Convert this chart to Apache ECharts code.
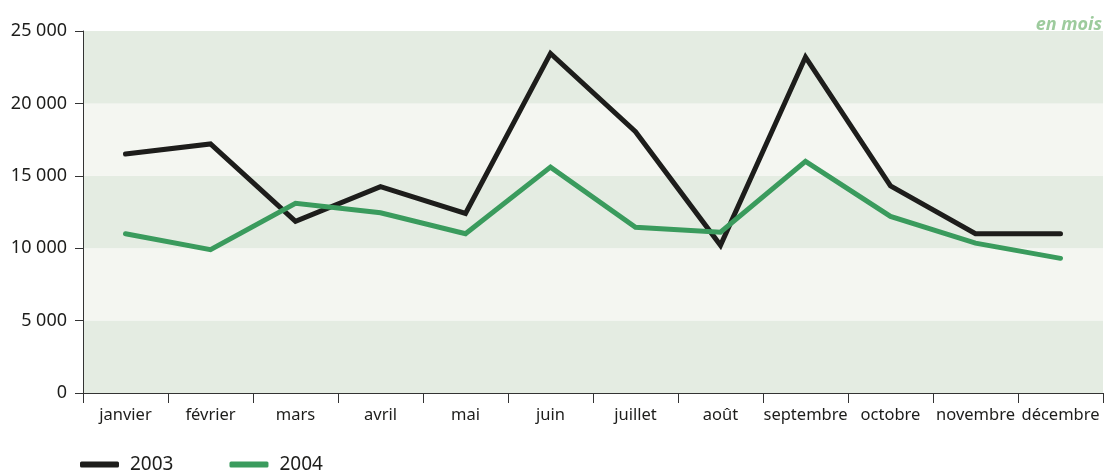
<!DOCTYPE html>
<html>
<head>
<meta charset="utf-8">
<script src="https://cdn.jsdelivr.net/npm/echarts@6/dist/echarts.min.js"></script>
<style>
html,body{margin:0;padding:0;background:#fff;}
#chart{width:1107px;height:470px;}
</style>
</head>
<body>
<div id="chart"></div>
<script>
const categories = ['janvier','février','mars','avril','mai','juin','juillet','août','septembre','octobre','novembre','décembre'];
const values2003 = [16500,17200,11850,14250,12400,23450,18050,10200,23200,14300,11000,11000];
const values2004 = [11000,9900,13100,12450,11000,15600,11450,11100,16000,12200,10350,9300];
const yTicks = [0,5000,10000,15000,20000,25000];
const unitLabel = 'en mois';

const FONT = '"Noto Sans", sans-serif';
const chart = echarts.init(document.getElementById('chart'));
chart.setOption({
  animation: false,
  textStyle: {fontFamily: FONT},
  title: {
    text: unitLabel, right: 0, top: 11,
    textStyle: {fontFamily: FONT, fontStyle: 'italic', fontWeight: 'bold', fontSize: 18, color: '#9dcb9d'}
  },
  legend: {
    left: 80, top: 455, padding: 0,
    itemWidth: 39, itemHeight: 6, itemGap: 56,
    icon: 'roundRect',
    textStyle: {fontFamily: FONT, fontSize: 19, color: '#1d1d1b', padding: [0,0,0,6], lineHeight: 19},
    data: ['2003','2004']
  },
  grid: {left: 83, right: 4, top: 31, bottom: 77, containLabel: false},
  xAxis: {
    type: 'category', data: categories, boundaryGap: true,
    axisLine: {lineStyle: {color: '#333', width: 1}},
    axisTick: {show: true, length: 10, interval: 0, lineStyle: {color: '#333'}},
    axisLabel: {interval: 0, fontSize: 16.5, color: '#1d1d1b', margin: 14, fontFamily: FONT},
    splitLine: {show: false}
  },
  yAxis: {
    type: 'value', min: yTicks[0], max: yTicks[yTicks.length-1], interval: 5000,
    axisLine: {show: true, lineStyle: {color: '#333', width: 1}},
    axisTick: {show: true, length: 8, lineStyle: {color: '#333'}},
    axisLabel: {fontSize: 18, color: '#1d1d1b', margin: 16, fontFamily: FONT,
      formatter: v => String(v).replace(/\B(?=(\d{3})+(?!\d))/g, ' ')},
    splitLine: {show: false},
    splitArea: {show: true, areaStyle: {color: ['#e4ece2', '#f4f6f1']}}
  },
  series: [
    {name: '2003', type: 'line', data: values2003, symbol: 'none', color: '#1d1d1b',
     lineStyle: {width: 5, color: '#1d1d1b', cap: 'round', join: 'miter'}},
    {name: '2004', type: 'line', data: values2004, symbol: 'none', color: '#3a9b5d',
     lineStyle: {width: 5, color: '#3a9b5d', cap: 'round', join: 'miter'}}
  ]
});
</script>
</body>
</html>
